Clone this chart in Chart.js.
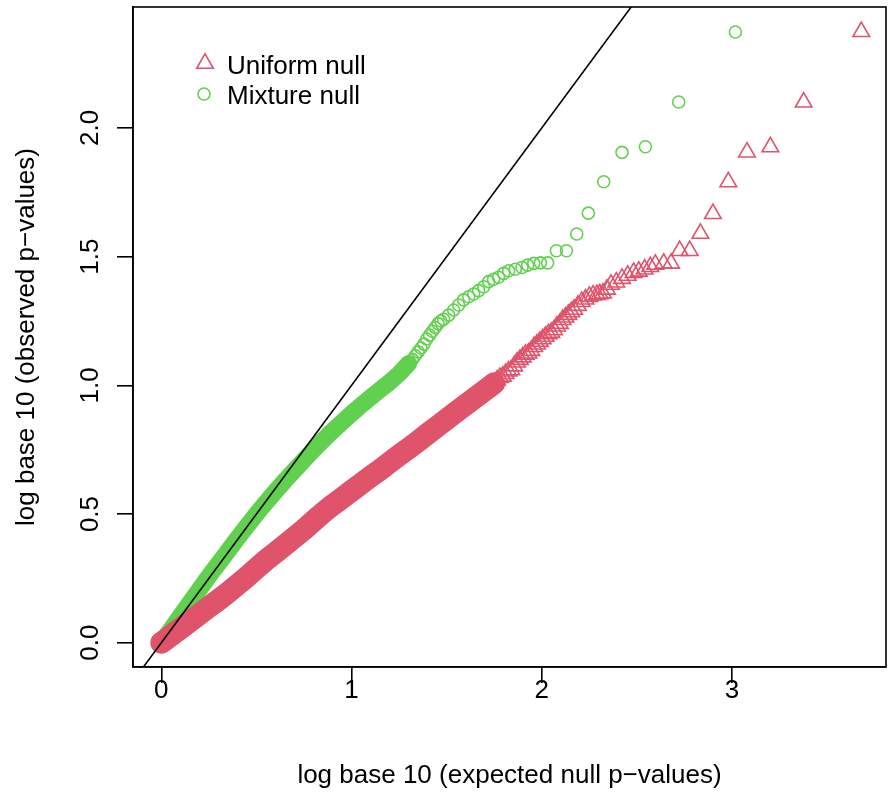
<!DOCTYPE html>
<html>
<head>
<meta charset="utf-8">
<script src="https://cdn.jsdelivr.net/npm/chart.js@4.4.1/dist/chart.umd.min.js"></script>
<style>
html,body{margin:0;padding:0;background:#fff;}
#wrap{width:894px;height:803px;}
</style>
</head>
<body>
<div id="wrap"><canvas id="c" width="894" height="803"></canvas></div>
<script>
// ---------------- data ----------------
const xTickValues = [0, 1, 2, 3];
const xTickLabels = ['0', '1', '2', '3'];
const yTickValues = [0, 0.5, 1, 1.5, 2];
const yTickLabels = ['0.0', '0.5', '1.0', '1.5', '2.0'];
const seriesNames = ['Uniform null', 'Mixture null'];
const xTitle = 'log base 10 (expected null p\u2212values)';
const yTitle = 'log base 10 (observed p\u2212values)';

// Uniform null (triangles): expected vs observed -log10 p
const uniformX = [0.00,0.03,0.06,0.10,0.15,0.20,0.25,0.30,0.35,0.40,0.45,0.50,0.55,0.60,0.65,0.70,0.75,0.80,0.85,0.90,0.95,1.00,1.05,1.10,1.15,1.20,1.25,1.30,1.35,1.40,1.45,1.50,1.55,1.60,1.65,1.70,1.75,
  1.765,1.78,1.795,1.81,1.825,1.84,1.855,1.87,1.885,1.90,1.915,1.93,1.945,1.96,1.975,1.99,2.005,2.02,2.035,2.05,2.065,2.08,2.095,2.11,2.125,2.14,2.155,2.17,2.19,2.21,2.23,2.25,2.27,2.29,2.305,
  2.322,2.343,2.364,2.392,2.422,2.452,2.483,2.510,2.541,2.571,2.597,2.641,2.680,2.725,2.778,2.834,2.900,2.981,3.079,3.202,3.377,3.680];
const uniformY = [0.000,0.016,0.033,0.055,0.083,0.111,0.139,0.166,0.195,0.225,0.256,0.289,0.321,0.350,0.380,0.410,0.440,0.473,0.505,0.535,0.562,0.590,0.618,0.645,0.672,0.700,0.728,0.755,0.783,0.812,0.840,0.868,0.897,0.925,0.952,0.980,1.008,
  1.020,1.030,1.035,1.045,1.055,1.060,1.075,1.090,1.100,1.110,1.120,1.125,1.135,1.150,1.160,1.170,1.180,1.190,1.200,1.205,1.215,1.230,1.240,1.255,1.265,1.275,1.285,1.295,1.310,1.325,1.335,1.345,1.350,1.352,1.355,
  1.358,1.373,1.392,1.401,1.415,1.427,1.438,1.443,1.451,1.461,1.470,1.474,1.474,1.523,1.523,1.590,1.667,1.790,1.906,1.926,2.100,2.374];
const uniformDenseCount = 37;   // points so crowded that they merge into a solid band

// Mixture null (circles)
const mixtureX = [0.00,0.05,0.10,0.15,0.20,0.25,0.30,0.35,0.40,0.45,0.50,0.55,0.60,0.65,0.70,0.75,0.80,0.85,0.90,0.95,1.00,1.05,1.10,1.15,1.20,1.25,1.30,
  1.32,1.335,1.35,1.365,1.38,1.395,1.41,1.425,1.44,1.455,1.47,
  1.484,1.511,1.537,1.563,1.589,1.616,1.642,1.668,1.695,1.721,1.747,1.773,1.800,1.826,1.861,1.896,1.926,1.958,1.993,2.031,
  2.077,2.130,2.184,2.245,2.326,2.422,2.545,2.720,3.018];
const mixtureY = [0.000,0.052,0.104,0.156,0.207,0.258,0.307,0.356,0.405,0.453,0.500,0.545,0.588,0.630,0.670,0.710,0.750,0.787,0.823,0.857,0.890,0.922,0.953,0.983,1.012,1.045,1.085,
  1.100,1.115,1.130,1.145,1.160,1.180,1.195,1.210,1.225,1.240,1.250,
  1.257,1.273,1.293,1.312,1.332,1.344,1.355,1.368,1.383,1.403,1.412,1.420,1.435,1.445,1.451,1.458,1.467,1.474,1.476,1.476,
  1.523,1.523,1.588,1.669,1.791,1.905,1.927,2.101,2.373];
const mixtureDenseCount = 27;

// reference line y = x
const refLine = [-0.3, 2.7];

// ---------------- chart ----------------
const RED = '#DF536B', GREEN = '#61D04F';
const FONT = '"Liberation Sans", Arial, Helvetica, sans-serif';
Chart.defaults.font.family = FONT;
Chart.defaults.color = '#000';

const pts = (xs, ys, n) => xs.slice(0, n === undefined ? xs.length : n).map((x, i) => ({x: x, y: ys[i]}));

function drawTri(ctx, x, y, r) {
  ctx.beginPath();
  for (let k = 0; k < 3; k++) {
    const a = k * 2 * Math.PI / 3;
    const px = x + Math.sin(a) * r, py = y - Math.cos(a) * r;
    if (k === 0) ctx.moveTo(px, py); else ctx.lineTo(px, py);
  }
  ctx.closePath();
  ctx.stroke();
}

const rStyle = {
  id: 'rStyle',
  afterDraw(chart) {
    const {ctx, chartArea: a, scales} = chart;
    ctx.save();
    ctx.strokeStyle = '#000';
    ctx.lineWidth = 1.6;
    ctx.strokeRect(a.left, a.top, a.right - a.left, a.bottom - a.top);
    // y tick labels, parallel to the axis as in R
    ctx.fillStyle = '#000';
    ctx.font = '26px ' + FONT;
    ctx.textAlign = 'center';
    ctx.textBaseline = 'alphabetic';
    yTickValues.forEach((v, i) => {
      const y = scales.y.getPixelForValue(v);
      ctx.save();
      ctx.translate(98, y);
      ctx.rotate(-Math.PI / 2);
      ctx.fillText(yTickLabels[i], 0, 0);
      ctx.restore();
    });
    // legend
    ctx.textAlign = 'left';
    ctx.lineWidth = 1.6;
    ctx.strokeStyle = RED;
    drawTri(ctx, 205, 63.5, 9.6);
    ctx.strokeStyle = GREEN;
    ctx.beginPath(); ctx.arc(204, 94, 6, 0, Math.PI * 2); ctx.stroke();
    ctx.fillStyle = '#000';
    ctx.fillText(seriesNames[0], 227, 73.5);
    ctx.fillText(seriesNames[1], 227, 104);
    ctx.restore();
  }
};

new Chart(document.getElementById('c'), {
  type: 'scatter',
  data: {
    datasets: [
      { // abline(0,1)
        type: 'line', data: refLine.map(v => ({x: v, y: v})), borderColor: '#000', borderWidth: 1.6,
        pointRadius: 0, fill: false, order: 0
      },
      {
        label: seriesNames[0], data: pts(uniformX, uniformY), showLine: false,
        pointStyle: 'triangle', pointRadius: 9.6, pointBorderWidth: 1.6,
        pointBorderColor: RED, pointBackgroundColor: 'rgba(0,0,0,0)', order: 1
      },
      {
        type: 'line', data: pts(uniformX, uniformY, uniformDenseCount), borderColor: RED, borderWidth: 22,
        borderCapStyle: 'round', borderJoinStyle: 'round', pointRadius: 0, fill: false, order: 2
      },
      {
        label: seriesNames[1], data: pts(mixtureX, mixtureY), showLine: false,
        pointStyle: 'circle', pointRadius: 6, pointBorderWidth: 1.6,
        pointBorderColor: GREEN, pointBackgroundColor: 'rgba(0,0,0,0)', order: 3
      },
      {
        type: 'line', data: pts(mixtureX, mixtureY, mixtureDenseCount), borderColor: GREEN, borderWidth: 17,
        borderCapStyle: 'round', borderJoinStyle: 'round', pointRadius: 0, fill: false, order: 4
      }
    ]
  },
  options: {
    responsive: false,
    animation: false,
    devicePixelRatio: 1,
    layout: { autoPadding: false, padding: { top: 7, right: 8, left: 0, bottom: 0 } },
    plugins: { legend: { display: false }, tooltip: { enabled: false } },
    scales: {
      x: {
        type: 'linear', position: 'bottom', min: -0.149, max: 3.81,
        afterBuildTicks: s => { s.ticks = xTickValues.map(v => ({value: v})); },
        afterFit: s => { s.height = 136; },
        grid: { display: true, drawOnChartArea: false, drawTicks: true, tickLength: 16, color: '#000', lineWidth: 1.6 },
        border: { display: true, color: '#000', width: 1.6 },
        ticks: { font: { size: 26, lineHeight: 1 }, color: '#000', padding: -5, maxRotation: 0,
          callback: (v, i) => xTickLabels[i] },
        title: { display: true, text: xTitle, font: { size: 26 }, color: '#000', padding: { top: 0, bottom: 12 } }
      },
      y: {
        type: 'linear', position: 'left', min: -0.0943, max: 2.470,
        afterBuildTicks: s => { s.ticks = yTickValues.map(v => ({value: v})); },
        afterFit: s => { s.width = 133; },
        grid: { display: true, drawOnChartArea: false, drawTicks: true, tickLength: 16, color: '#000', lineWidth: 1.6 },
        border: { display: true, color: '#000', width: 1.6 },
        ticks: { display: false },
        title: { display: true, text: yTitle, font: { size: 26 }, color: '#000', padding: { top: 11, bottom: 0 } }
      }
    }
  },
  plugins: [rStyle]
});
</script>
</body>
</html>
